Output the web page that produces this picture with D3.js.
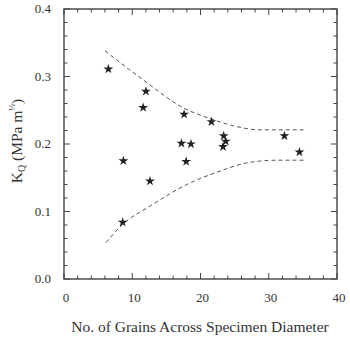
<!DOCTYPE html>
<html>
<head>
<meta charset="utf-8">
<script src="https://cdn.jsdelivr.net/npm/d3@7"></script>
<style>
  body { margin: 0; background: #fff; }
  text { font-family: "Liberation Serif", "DejaVu Serif", serif; fill: #333; }
</style>
</head>
<body>
<div id="chart"></div>
<script>
// measured points (grains across diameter, KQ)
var grains = [6.5, 12.0, 11.6, 17.6, 21.6, 23.4, 23.7, 23.3, 17.2, 18.6, 32.3, 34.5, 8.7, 17.9, 12.6, 8.6];
var kq     = [0.311, 0.278, 0.254, 0.244, 0.233, 0.212, 0.204, 0.196, 0.201, 0.200, 0.212, 0.188, 0.175, 0.174, 0.145, 0.084];

// upper and lower scatter bands (dashed)
var upperX = [6.0, 11.6, 17.6, 21.6, 24.8, 28.7, 35.1];
var upperY = [0.338, 0.295, 0.253, 0.237, 0.227, 0.221, 0.221];
var lowerX = [6.15, 8.6, 12.6, 18.0, 22.9, 26.8, 31.2, 35.1];
var lowerY = [0.054, 0.081, 0.108, 0.140, 0.160, 0.172, 0.176, 0.176];

var xTicks = [0, 10, 20, 30, 40];
var yTicks = [0.0, 0.1, 0.2, 0.3, 0.4];

var width = 350, height = 340;
var svg = d3.select("#chart").append("svg")
    .attr("width", width).attr("height", height);

var x = d3.scaleLinear().domain([0, 40]).range([64, 337]);
var y = d3.scaleLinear().domain([0, 0.4]).range([279, 9]);

// frame
svg.append("rect")
    .attr("x", x(0)).attr("y", y(0.4))
    .attr("width", x(40) - x(0)).attr("height", y(0) - y(0.4))
    .attr("fill", "none").attr("stroke", "#333").attr("stroke-width", 1.3);

// inward ticks on all four sides
var minorX = d3.range(0, 40.01, 2);
var minorY = d3.range(0, 0.401, 0.02);
var ticks = svg.append("g").attr("stroke", "#444").attr("stroke-width", 1);
minorX.forEach(function(v) {
    var len = (Math.abs(v % 10) < 0.01) ? 6 : 3.5;
    ticks.append("line").attr("x1", x(v)).attr("x2", x(v)).attr("y1", y(0)).attr("y2", y(0) - len);
    ticks.append("line").attr("x1", x(v)).attr("x2", x(v)).attr("y1", y(0.4)).attr("y2", y(0.4) + len);
});
minorY.forEach(function(v, i) {
    var len = (i % 5 === 0) ? 6 : 3.5;
    ticks.append("line").attr("y1", y(v)).attr("y2", y(v)).attr("x1", x(0)).attr("x2", x(0) + len);
    ticks.append("line").attr("y1", y(v)).attr("y2", y(v)).attr("x1", x(40)).attr("x2", x(40) - len);
});

// tick labels
svg.selectAll(".xl").data(xTicks).enter().append("text")
    .attr("x", function(d){ return x(d) + 2; }).attr("y", 302)
    .attr("text-anchor", "middle").attr("font-size", 13)
    .text(function(d){ return d; });
svg.selectAll(".yl").data(yTicks).enter().append("text")
    .attr("x", 51).attr("y", function(d){ return y(d) + 4; })
    .attr("text-anchor", "end").attr("font-size", 13)
    .text(function(d){ return d.toFixed(1); });

// axis titles
svg.append("text").attr("x", 200).attr("y", 332)
    .attr("text-anchor", "middle").attr("font-size", 15.5)
    .text("No. of Grains Across Specimen Diameter");

var yt = svg.append("text")
    .attr("transform", "translate(22,141) rotate(-90)")
    .attr("text-anchor", "middle").attr("font-size", 15.5);
yt.append("tspan").text("K");
yt.append("tspan").attr("font-size", 10).attr("dy", 3).text("Q");
yt.append("tspan").attr("dy", -3).text(" (MPa m");
yt.append("tspan").attr("font-size", 9).attr("dy", -7).text("½");
yt.append("tspan").attr("dy", 7).text(")");

// dashed bands
var line = d3.line()
    .x(function(d){ return x(d[0]); })
    .y(function(d){ return y(d[1]); })
    .curve(d3.curveMonotoneX);
[[upperX, upperY], [lowerX, lowerY]].forEach(function(b) {
    svg.append("path")
        .attr("d", line(d3.zip(b[0], b[1])))
        .attr("fill", "none").attr("stroke", "#555")
        .attr("stroke-width", 1).attr("stroke-dasharray", "4,3");
});

// star markers
var star = d3.symbol().type(d3.symbolStar).size(30);
svg.selectAll(".pt").data(d3.zip(grains, kq)).enter().append("path")
    .attr("d", star)
    .attr("transform", function(d){ return "translate(" + x(d[0]) + "," + y(d[1]) + ")"; })
    .attr("fill", "#222");
</script>
</body>
</html>
